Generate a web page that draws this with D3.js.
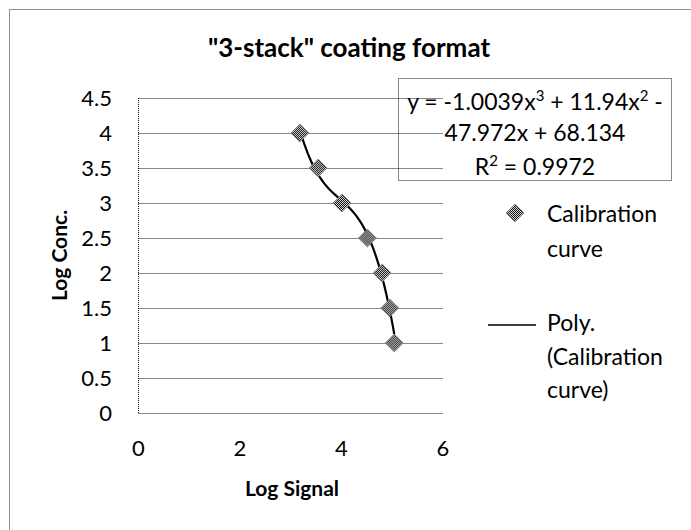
<!DOCTYPE html>
<html>
<head>
<meta charset="utf-8">
<script src="https://cdn.jsdelivr.net/npm/d3@7"></script>
<style>
  body { margin: 0; background: #fff; }
  text { font-family: Lato, "Open Sans", sans-serif; fill: #000; }
</style>
</head>
<body>
<svg width="691" height="530"></svg>
<script>
/* jshint esversion: 6 */
var logSignal = [3.18, 3.54, 4.01, 4.51, 4.80, 4.95, 5.04];
var logConc = [4, 3.5, 3, 2.5, 2, 1.5, 1];
var polyCoef = [68.134, -47.972, 11.94, -1.0039];   // c0 + c1 x + c2 x^2 + c3 x^3
var xTicks = [0, 2, 4, 6];
var yTicks = [0, 0.5, 1, 1.5, 2, 2.5, 3, 3.5, 4, 4.5];
var yTickLabels = ['0', '0.5', '1', '1.5', '2', '2.5', '3', '3.5', '4', '4.5'];

var width = 691;
var height = 530;
var plot = { left: 138.5, right: 443, top: 98, bottom: 413 };

var svg = d3.select('svg')
    .attr('width', width)
    .attr('height', height);

var defs = svg.append('defs');
var pat = defs.append('pattern')
    .attr('id', 'checker')
    .attr('width', 2)
    .attr('height', 2)
    .attr('patternUnits', 'userSpaceOnUse');
pat.append('rect').attr('width', 2).attr('height', 2).attr('fill', '#d8d8d8');
pat.append('rect').attr('width', 1).attr('height', 1).attr('fill', '#111');
pat.append('rect').attr('x', 1).attr('y', 1).attr('width', 1).attr('height', 1).attr('fill', '#111');

var x = d3.scaleLinear().domain([0, 6]).range([plot.left, plot.right]);
var y = d3.scaleLinear().domain([0, 4.5]).range([plot.bottom, plot.top]);

// outer chart frame
svg.append('rect')
    .attr('x', 9.5)
    .attr('y', 9.5)
    .attr('width', 700)
    .attr('height', 540)
    .attr('fill', 'none')
    .attr('stroke', '#222')
    .attr('stroke-dasharray', '1,1');

// title
svg.append('text')
    .attr('x', 349)
    .attr('y', 57)
    .attr('text-anchor', 'middle')
    .style('font-size', '26px')
    .style('font-weight', 'bold')
    .text('"3-stack" coating format');

// gridlines
svg.append('g')
    .selectAll('line')
    .data(yTicks)
    .enter()
    .append('line')
        .attr('x1', plot.left)
        .attr('x2', plot.right)
        .attr('y1', d => Math.round(y(d)) + 0.5)
        .attr('y2', d => Math.round(y(d)) + 0.5)
        .attr('stroke', '#111')
        .attr('stroke-dasharray', '1,1');

// left border of plot
svg.append('line')
    .attr('x1', plot.left)
    .attr('x2', plot.left)
    .attr('y1', plot.top)
    .attr('y2', plot.bottom)
    .attr('stroke', '#111')
    .attr('stroke-dasharray', '1,1');

// y tick labels
svg.append('g')
    .selectAll('text')
    .data(yTicks)
    .enter()
    .append('text')
        .attr('x', 112)
        .attr('y', d => y(d) + 8)
        .attr('text-anchor', 'end')
        .style('font-size', '22px')
        .text((d, i) => yTickLabels[i]);

// x tick labels
svg.append('g')
    .selectAll('text')
    .data(xTicks)
    .enter()
    .append('text')
        .attr('x', d => x(d))
        .attr('y', 456)
        .attr('text-anchor', 'middle')
        .style('font-size', '22px')
        .text(d => d);

// axis titles
svg.append('text')
    .attr('x', 292)
    .attr('y', 496)
    .attr('text-anchor', 'middle')
    .style('font-size', '21px')
    .style('font-weight', 'bold')
    .text('Log Signal');

svg.append('text')
    .attr('transform', 'translate(67,' + (plot.top + plot.bottom) / 2 + ') rotate(-90)')
    .attr('text-anchor', 'middle')
    .style('font-size', '21px')
    .style('font-weight', 'bold')
    .text('Log Conc.');

// poly trendline over the data range
function poly(v) {
    return polyCoef[0] + polyCoef[1] * v + polyCoef[2] * v * v + polyCoef[3] * v * v * v;
}
var xMin = d3.min(logSignal);
var xMax = d3.max(logSignal);
var curvePts = d3.range(0, 61).map(i => {
    var v = xMin + (xMax - xMin) * i / 60;
    return [v, poly(v)];
});

svg.append('path')
    .datum(curvePts)
    .attr('fill', 'none')
    .attr('stroke', '#000')
    .attr('stroke-width', 2.2)
    .attr('d', d3.line().x(d => x(d[0])).y(d => y(d[1])));

// markers
var diamond = d3.symbol().type(d3.symbolDiamond2).size(200);
var pts = logSignal.map((v, i) => [v, logConc[i]]);

svg.append('g')
    .selectAll('path')
    .data(pts)
    .enter()
    .append('path')
        .attr('transform', d => 'translate(' + x(d[0]) + ',' + y(d[1]) + ')')
        .attr('d', diamond)
        .attr('fill', 'url(#checker)')
        .attr('stroke', '#777')
        .attr('stroke-width', 1);

// equation box
svg.append('rect')
    .attr('x', 398.5)
    .attr('y', 78.5)
    .attr('width', 273)
    .attr('height', 102)
    .attr('fill', 'none')
    .attr('stroke', '#111')
    .attr('stroke-dasharray', '1,1');

var eq = svg.append('g')
    .style('font-size', '23px')
    .attr('text-anchor', 'middle');

var l1 = eq.append('text').attr('x', 535).attr('y', 110);
l1.append('tspan').text('y = ' + polyCoef[3] + 'x');
l1.append('tspan').attr('dy', -9).style('font-size', '15px').text('3');
l1.append('tspan').attr('dy', 9).text(' + ' + polyCoef[2] + 'x');
l1.append('tspan').attr('dy', -9).style('font-size', '15px').text('2');
l1.append('tspan').attr('dy', 9).text(' -');

eq.append('text').attr('x', 535).attr('y', 141)
    .text(Math.abs(polyCoef[1]) + 'x + ' + polyCoef[0]);

var l3 = eq.append('text').attr('x', 535).attr('y', 175);
l3.append('tspan').text('R');
l3.append('tspan').attr('dy', -9).style('font-size', '15px').text('2');
l3.append('tspan').attr('dy', 9).text(' = 0.9972');

// legend
var legend = svg.append('g').style('font-size', '23px');

legend.append('path')
    .attr('transform', 'translate(515,213)')
    .attr('d', diamond)
    .attr('fill', 'url(#checker)')
    .attr('stroke', '#777');

legend.append('text').attr('x', 547).attr('y', 222).text('Calibration');
legend.append('text').attr('x', 547).attr('y', 257).text('curve');

legend.append('line')
    .attr('x1', 488)
    .attr('x2', 536)
    .attr('y1', 325)
    .attr('y2', 325)
    .attr('stroke', '#000')
    .attr('stroke-width', 1.5);

legend.append('text').attr('x', 547).attr('y', 331).text('Poly.');
legend.append('text').attr('x', 547).attr('y', 365).text('(Calibration');
legend.append('text').attr('x', 547).attr('y', 398).text('curve)');
</script>
</body>
</html>
